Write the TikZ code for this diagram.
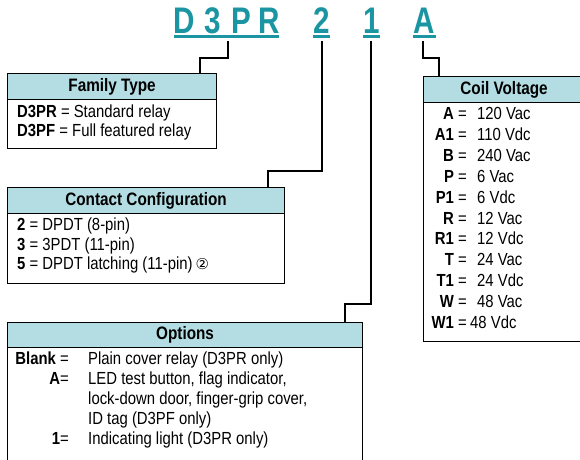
\documentclass[tikz,border=0pt]{standalone}
\usepackage{fontspec}
\setmainfont{Liberation Sans}[FakeStretch=0.85]
\newfontfamily\titlefont{Liberation Sans}[FakeStretch=0.8]
\newfontfamily\symfont{DejaVu Sans}
\definecolor{titleteal}{HTML}{1B95A1}
\definecolor{headblue}{HTML}{B3DDE3}
\begin{document}
\begin{tikzpicture}[x=1pt,y=-1pt,
  boxline/.style={draw=black,line width=1.1pt},
  headbox/.style={boxline,fill=headblue,inner sep=0pt,anchor=north west,
    font=\fontsize{18}{21}\selectfont\bfseries},
  bodybox/.style={boxline,inner sep=0pt,anchor=north west},
  row/.style={anchor=base west,inner sep=0pt,font=\fontsize{17.5}{20}\selectfont},
  lab/.style={anchor=base east,inner sep=0pt,font=\fontsize{17.5}{20}\selectfont},
  ttl/.style={anchor=base,inner sep=0pt,text=titleteal,
    font=\fontsize{37}{40}\titlefont\bfseries},
  uline/.style={draw=titleteal,line width=2.2pt},
  conn/.style={draw=black,line width=1.8pt}]
\useasboundingbox (0,0) rectangle (580,459);
\clip (0,0) rectangle (580,459);

% title
\node[ttl] (tD) at (184.5,33) {D};
\node[ttl] (t3) at (212.5,33) {3};
\node[ttl] (tP) at (241,33) {P};
\node[ttl] (tR) at (269.5,33) {R};
\node[ttl] (t2) at (321.5,33) {2};
\node[ttl] (t1) at (371.5,33) {1};
\node[ttl] (tA) at (424.5,33) {A};
\draw[uline] (174,36.5) -- (279,36.5);
\draw[uline] (313,36.5) -- (330,36.5);
\draw[uline] (363,36.5) -- (380,36.5);
\draw[uline] (413,36.5) -- (436,36.5);

% Family Type
\node[headbox,minimum width=209pt,minimum height=26pt] (famhead) at (7,73) {Family Type};
\node[bodybox,minimum width=209pt,minimum height=49pt] (fambody) at (7,99) {};
\node[row] (f1) at (17,117) {\textbf{D3PR} = Standard relay};
\node[row] (f2) at (17,136.5) {\textbf{D3PF} = Full featured relay};

% Contact Configuration
\node[headbox,minimum width=277pt,minimum height=26pt] (conhead) at (7,187) {Contact Configuration};
\node[bodybox,minimum width=277pt,minimum height=70pt] (conbody) at (7,213) {};
\node[row] (c1) at (17,230.5) {\textbf{2} = DPDT (8-pin)};
\node[row] (c2) at (17,250) {\textbf{3} = 3PDT (11-pin)};
\node[row] (c3) at (17,269.5) {\textbf{5} = DPDT latching (11-pin)\,{\symfont\fontsize{15}{16}\selectfont ②}};

% Options
\node[headbox,minimum width=355pt,minimum height=25pt] (opthead) at (7,322) {Options};
\node[bodybox,minimum width=355pt,minimum height=130pt] (optbody) at (7,347) {};
\node[lab] (o1l) at (69,364) {\textbf{Blank} =};
\node[row] (o1) at (88,364) {Plain cover relay (D3PR only)};
\node[lab] (o2l) at (69,384) {\textbf{A}=};
\node[row] (o2) at (88,384) {LED test button, flag indicator,};
\node[row] (o3) at (88,404) {lock-down door, finger-grip cover,};
\node[row] (o4) at (88,424) {ID tag (D3PF only)};
\node[lab] (o5l) at (69,444) {\textbf{1}=};
\node[row] (o5) at (88,444) {Indicating light (D3PR only)};

% Coil Voltage
\node[headbox,minimum width=161pt,minimum height=26pt] (coilhead) at (423,76) {Coil Voltage};
\node[bodybox,minimum width=161pt,minimum height=239pt] (coilbody) at (423,102) {};
\foreach \k/\v/\n [count=\i from 0] in {A/120 Vac/ca,A1/110 Vdc/ca1,B/240 Vac/cb,P/6 Vac/cp,P1/6 Vdc/cp1,R/12 Vac/cr,R1/12 Vdc/cr1,T/24 Vac/ct,T1/24 Vdc/ct1,W/48 Vac/cw}{
  \node[lab] (\n l) at (467,119.5+20.9*\i) {\textbf{\k} =};
  \node[row] (\n) at (477,119.5+20.9*\i) {\v};
}
\node[lab] (cw1l) at (467,328.5) {\textbf{W1} =};
\node[row] (cw1) at (470,328.5) {48 Vdc};

% connectors
\coordinate (sD) at (228,41);
\coordinate (s2) at (322,41);
\coordinate (s1) at (371,41);
\coordinate (sA) at (423,41);
\coordinate (eD) at (200,73);
\coordinate (e2) at (268,187);
\coordinate (e1) at (345,322);
\coordinate (eA) at (439,76);
\draw[conn] (sD) -- (228,58) -| (eD);
\draw[conn] (s2) -- (322,171) -| (e2);
\draw[conn] (s1) -- (371,304) -| (e1);
\draw[conn] (sA) -- (423,58) -| (eA);
\end{tikzpicture}
\end{document}
